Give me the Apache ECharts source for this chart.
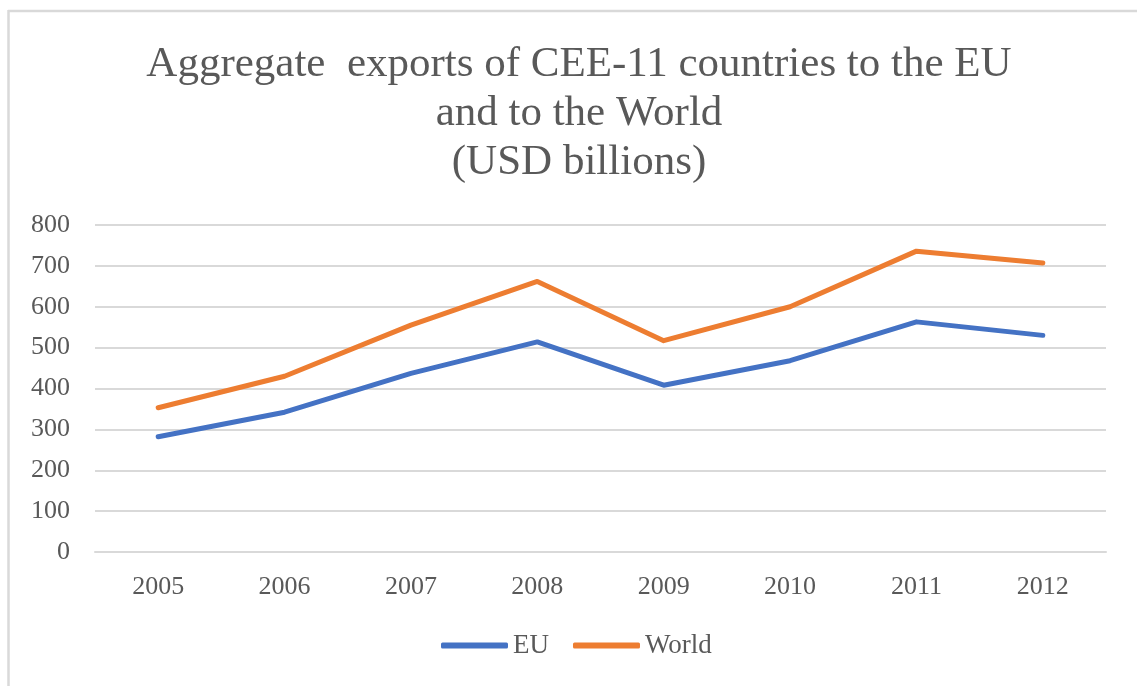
<!DOCTYPE html>
<html>
<head>
<meta charset="utf-8">
<script src="https://cdn.jsdelivr.net/npm/echarts@6/dist/echarts.min.js"></script>
<style>
  html, body { margin: 0; padding: 0; background: #fff; }
  #chart { width: 1137px; height: 686px; }
</style>
</head>
<body>
<div id="chart"></div>
<script>
// Aggregate exports, USD billions
const years = ['2005', '2006', '2007', '2008', '2009', '2010', '2011', '2012'];
const euExports = [282, 342, 437, 514, 408, 468, 563, 530];
const worldExports = [353, 430, 555, 662, 517, 600, 736, 707];
const yTicks = { min: 0, max: 800, interval: 100 };

const serif = '"Liberation Serif", "Times New Roman", serif';
const textGrey = '#595959';
const gridGrey = '#d9d9d9';

const chart = echarts.init(document.getElementById('chart'), null, { renderer: 'canvas' });

chart.setOption({
  backgroundColor: '#fff',
  animation: false,
  title: {
    text: 'Aggregate  exports of CEE-11 countries to the EU\nand to the World\n(USD billions)',
    left: 574,
    top: 35,
    textAlign: 'center',
    textStyle: {
      fontFamily: serif,
      fontWeight: 'normal',
      fontSize: 43,
      lineHeight: 49,
      color: textGrey
    }
  },
  legend: {
    data: ['EU', 'World'],
    left: 441,
    top: 632,
    padding: 0,
    itemWidth: 67,
    itemHeight: 6,
    itemGap: 24,
    icon: 'roundRect',
    textStyle: { fontFamily: serif, fontSize: 27, color: textGrey }
  },
  grid: { left: 95, right: 31, top: 225, bottom: 134, containLabel: false },
  xAxis: {
    type: 'category',
    data: years,
    boundaryGap: true,
    axisLine: { lineStyle: { color: gridGrey, width: 2 } },
    axisTick: { show: false },
    axisLabel: { fontFamily: serif, fontSize: 26, color: textGrey, margin: 22 }
  },
  yAxis: {
    type: 'value',
    min: yTicks.min,
    max: yTicks.max,
    interval: yTicks.interval,
    axisLine: { show: false },
    axisTick: { show: false },
    splitLine: { lineStyle: { color: gridGrey, width: 2 } },
    axisLabel: { fontFamily: serif, fontSize: 26, color: textGrey, margin: 25 }
  },
  series: [
    {
      name: 'EU',
      type: 'line',
      data: euExports,
      symbol: 'none',
      color: '#4472C4',
      lineStyle: { width: 5, cap: 'round', join: 'round' }
    },
    {
      name: 'World',
      type: 'line',
      data: worldExports,
      symbol: 'none',
      color: '#ED7D31',
      lineStyle: { width: 5, cap: 'round', join: 'round' }
    }
  ],
  graphic: [
    // chart frame: top and left edges
    { type: 'line', shape: { x1: 8, y1: 11, x2: 1137, y2: 11 }, style: { stroke: gridGrey, lineWidth: 2.5 }, silent: true },
    { type: 'line', shape: { x1: 8.5, y1: 10, x2: 8.5, y2: 686 }, style: { stroke: gridGrey, lineWidth: 2.5 }, silent: true }
  ]
});
</script>
</body>
</html>
